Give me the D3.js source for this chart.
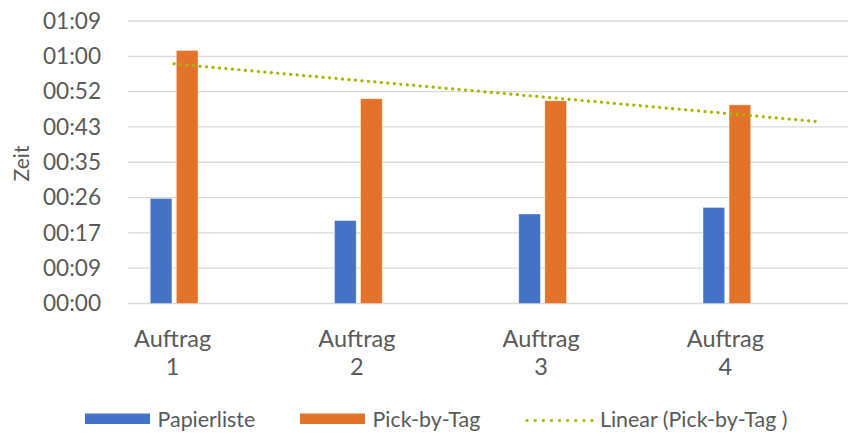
<!DOCTYPE html>
<html>
<head>
<meta charset="utf-8">
<script src="https://cdn.jsdelivr.net/npm/d3@7"></script>
<style>
  body { margin: 0; background: #fff; }
  text { font-family: Lato, "Open Sans", sans-serif; fill: #595959; }
</style>
</head>
<body>
<div id="chart"></div>
<script>
// data (seconds)
const categories = ["Auftrag 1", "Auftrag 2", "Auftrag 3", "Auftrag 4"];
const seriesNames = ["Papierliste", "Pick-by-Tag"];
const papierliste = [25.7, 20.3, 21.9, 23.5];
const pickByTag = [61.9, 50.1, 49.6, 48.6];
const tickValues = [0, 8.64, 17.28, 25.92, 34.56, 43.2, 51.84, 60.48, 69.12];
const tickLabels = ["00:00", "00:09", "00:17", "00:26", "00:35", "00:43", "00:52", "01:00", "01:09"];
const colors = ["#4472C4", "#E3722A"];
const trendColor = "#A8B400";

const W = 855, H = 437;
const grid = {l: 128, r: 848};

const svg = d3.select("#chart").append("svg")
  .attr("width", W).attr("height", H);

const y = d3.scaleLinear().domain([0, 69.12]).range([303.5, 21]);

const x = d3.scaleBand().domain(categories).range([82, 819]).paddingInner(0);
const xs = d3.scaleBand().domain(seriesNames).range([0, 47.7]).paddingInner(0.17);

// gridlines
svg.append("g").selectAll("line")
  .data(tickValues)
  .join("line")
  .attr("x1", grid.l).attr("x2", grid.r)
  .attr("y1", d => y(d)).attr("y2", d => y(d))
  .attr("stroke", "#D9D9D9").attr("stroke-width", 1.3);

// y axis labels
const axisY = d3.axisLeft(y).tickValues(tickValues)
  .tickFormat((d, i) => tickLabels[i]).tickSize(0).tickPadding(0);
const gy = svg.append("g").attr("transform", "translate(101,0)").call(axisY);
gy.select(".domain").remove();
gy.selectAll("text").attr("font-size", 22.6).style("font-family", "Lato").attr("fill", "#595959");

svg.append("text")
  .attr("transform", "translate(29,163.5) rotate(-90)")
  .attr("text-anchor", "middle")
  .attr("font-size", 21)
  .text("Zeit");

// bars
const rows = categories.map((c, i) => ({cat: c, vals: [papierliste[i], pickByTag[i]]}));
const groups = svg.append("g").selectAll("g")
  .data(rows)
  .join("g")
  .attr("transform", d => `translate(${x(d.cat) + x.bandwidth() / 2 - 23.85},0)`);

groups.selectAll("rect")
  .data(d => d.vals.map((v, j) => ({name: seriesNames[j], v: v, j: j})))
  .join("rect")
  .attr("x", d => xs(d.name))
  .attr("width", xs.bandwidth())
  .attr("y", d => y(d.v))
  .attr("height", d => y(0) - y(d.v))
  .attr("fill", d => colors[d.j])
  .attr("stroke", "#fff").attr("stroke-opacity", 0.45).attr("stroke-width", 0.8);

// category labels
const lab = svg.append("g").selectAll("text")
  .data(categories)
  .join("text")
  .attr("x", d => x(d) + x.bandwidth() / 2)
  .attr("text-anchor", "middle")
  .attr("font-size", 23.5);
lab.append("tspan").attr("x", d => x(d) + x.bandwidth() / 2 - 1.5).attr("y", 346.5).text(d => d.split(" ")[0]);
lab.append("tspan").attr("x", d => x(d) + x.bandwidth() / 2 - 1.5).attr("y", 375).text(d => d.split(" ")[1]);

// linear trend for Pick-by-Tag (least squares, forward 0.5)
const idx = pickByTag.map((v, i) => i + 1);
const mx = d3.mean(idx), my = d3.mean(pickByTag);
const slope = d3.sum(idx, (t, i) => (t - mx) * (pickByTag[i] - my)) / d3.sum(idx, t => (t - mx) * (t - mx));
const icpt = my - slope * mx;
const xi = d3.scaleLinear().domain([1, 4])
  .range([x(categories[0]) + x.bandwidth() / 2, x(categories[3]) + x.bandwidth() / 2]);
const trendPts = [1, 4.5].map(t => [xi(t), y(icpt + slope * t)]);

svg.append("path")
  .attr("d", d3.line()(trendPts))
  .attr("fill", "none")
  .attr("stroke", trendColor)
  .attr("stroke-width", 3.2)
  .attr("stroke-linecap", "round")
  .attr("stroke-dasharray", "0.1 6.4");

// legend
const lg = svg.append("g");
lg.append("rect").attr("x", 85).attr("y", 413.5).attr("width", 65).attr("height", 10.5).attr("fill", colors[0]);
lg.append("text").attr("x", 157.5).attr("y", 427).attr("font-size", 21.4).text("Papierliste");
lg.append("rect").attr("x", 300).attr("y", 413.5).attr("width", 65).attr("height", 10.5).attr("fill", colors[1]);
lg.append("text").attr("x", 372.5).attr("y", 427).attr("font-size", 21.4).text("Pick-by-Tag");
lg.append("line").attr("x1", 527).attr("x2", 592).attr("y1", 420.5).attr("y2", 420.5)
  .attr("stroke", trendColor).attr("stroke-width", 3.2).attr("stroke-linecap", "round")
  .attr("stroke-dasharray", "0.1 8.02");
lg.append("text").attr("x", 600).attr("y", 427).attr("font-size", 21.4).text("Linear (Pick-by-Tag )");
</script>
</body>
</html>
